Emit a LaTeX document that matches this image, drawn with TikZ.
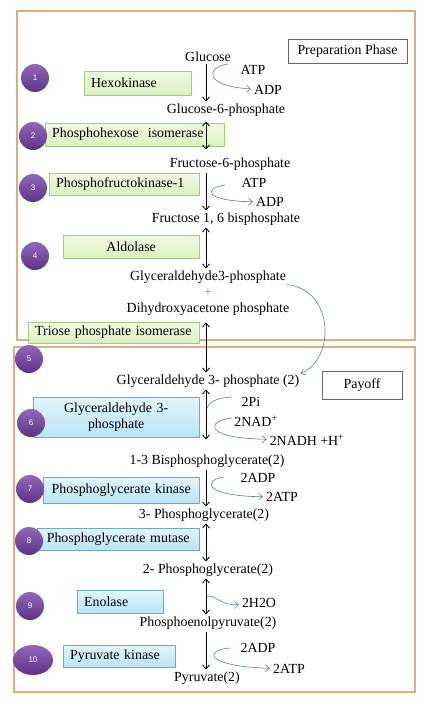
\documentclass[tikz,border=0pt]{standalone}
\usepackage{fontspec}
\setmainfont{Liberation Serif}
\setsansfont{Liberation Sans}
\definecolor{phaseedge}{RGB}{222, 172, 125}
\definecolor{stepviolet}{RGB}{92, 50, 135}
\definecolor{steplight}{RGB}{145, 105, 185}
\definecolor{prepfill}{RGB}{218, 242, 190}
\definecolor{prepedge}{RGB}{165, 200, 130}
\definecolor{payfill}{RGB}{185, 228, 246}
\definecolor{payedge}{RGB}{110, 170, 200}
\definecolor{cofactor}{RGB}{88, 128, 158}
\definecolor{plusorange}{RGB}{205, 125, 60}
\usetikzlibrary{arrows.meta, shapes.geometric}

\begin{document}
\begin{tikzpicture}[x=1pt, y=-1pt,
    every node/.style={font=\fontsize{13.9}{16.5}\selectfont, inner sep=1pt},
    enzprep/.style={draw=prepedge, top color=prepfill!40!white, bottom color=prepfill, inner xsep=7pt, inner ysep=2pt, align=left, anchor=west},
    enzpay/.style={draw=payedge, top color=payfill!40!white, bottom color=payfill, inner xsep=7pt, inner ysep=2pt, align=left, anchor=west},
    stepdot/.style={circle, minimum size=28pt, inner sep=0pt, top color=steplight, bottom color=stepviolet, text=white, font=\sffamily\fontsize{8}{9}\selectfont},
    side/.style={inner sep=3pt},
    rxn/.style={-{Straight Barb[length=4pt, width=7pt]}, line width=0.8pt, shorten <=1pt, shorten >=1pt},
    rev/.style={{Straight Barb[length=4pt, width=7pt]}-{Straight Barb[length=4pt, width=7pt]}, line width=0.8pt, shorten <=1pt, shorten >=1pt},
    cofac/.style={draw=cofactor, line width=0.6pt},
    cofacto/.style={cofac, -{Straight Barb[length=4pt, width=7pt]}},
    phase/.style={draw=phaseedge, line width=1.6pt},
    tag/.style={draw=gray!80!black, line width=0.5pt, inner sep=0pt}]
    \useasboundingbox (0,0) rectangle (431,709);

    % Phase frames
    \draw[phase] (17,11) rectangle (415,340);
    \draw[phase] (14,347) rectangle (415,692);
    \node[tag, minimum width=119pt, minimum height=24pt] (prep) at (347.5,51) {Preparation Phase};
    \node[tag, minimum width=80pt, minimum height=28pt] (payoff) at (362,385) {Payoff};

    % Enzymes, preparation phase
    \node[enzprep, text width=93pt, minimum height=24pt] (hk) at (84,83) {Hexokinase};
    \node[enzprep, text width=165pt, minimum height=23pt] (phi) at (45,134.5) {Phosphohexose\ \ isomerase};
    \node[enzprep, text width=136pt, minimum height=22pt] (pfk) at (49,184) {Phosphofructokinase-1};
    \node[enzprep, text width=122pt, minimum height=23pt, align=center] (ald) at (63,246.5) {Aldolase};
    \node[enzprep, text width=157pt, minimum height=21pt] (tpi) at (28,332.5) {Triose phosphate isomerase};

    % Enzymes, payoff phase
    \node[enzpay, text width=152pt, minimum height=40pt, align=center] (gapdh) at (33,417) {Glyceraldehyde 3-\\phosphate};
    \node[enzpay, text width=142pt, minimum height=26pt, align=center] (pgk) at (43,490) {Phosphoglycerate kinase};
    \node[enzpay, text width=148pt, minimum height=22pt, align=center] (pgm) at (37,539) {Phosphoglycerate mutase};
    \node[enzpay, text width=72pt, minimum height=23pt] (eno) at (77,601.5) {Enolase};
    \node[enzpay, text width=98pt, minimum height=22pt] (pk) at (63,656) {Pyruvate kinase};

    % Step numbers
    \node[stepdot] (s1) at (35,78) {1};
    \node[stepdot] (s2) at (33,136) {2};
    \node[stepdot] (s3) at (33,188) {3};
    \node[stepdot] (s4) at (35,256) {4};
    \node[stepdot] (s5) at (29,359) {5};
    \node[stepdot] (s6) at (31,423) {6};
    \node[stepdot] (s7) at (30,489) {7};
    \node[stepdot] (s8) at (29,541) {8};
    \node[stepdot] (s9) at (30,606) {9};
    \node[stepdot, ellipse, minimum width=40pt, minimum height=30pt] (s10) at (33,660) {10};

    % Metabolites
    \node (glc) at (208,57) {Glucose};
    \node (g6p) at (226,110) {Glucose-6-phosphate};
    \node (f6p) at (230,164) {Fructose-6-phosphate};
    \node (f16bp) at (226,219) {Fructose 1, 6 bisphosphate};
    \node (gap) at (208,277) {Glyceraldehyde3-phosphate};
    \node[text=plusorange] (plus) at (208,293) {+};
    \node (dhap) at (208,309) {Dihydroxyacetone phosphate};
    \node (gap2) at (208,381) {Glyceraldehyde 3- phosphate (2)};
    \node (bpg) at (207,461) {1-3 Bisphosphoglycerate(2)};
    \node (pg3) at (204,515) {3- Phosphoglycerate(2)};
    \node (pg2) at (208,570) {2- Phosphoglycerate(2)};
    \node (pep) at (208,623) {Phosphoenolpyruvate(2)};
    \node (pyr) at (207,678) {Pyruvate(2)};

    % Cofactors
    \node[side] (atp1) at (253,70) {ATP};
    \node[side] (adp1) at (268,90) {ADP};
    \node[side] (atp3) at (254,183) {ATP};
    \node[side] (adp3) at (270,202) {ADP};
    \node[side] (pi) at (251,402) {2Pi};
    \node[side] (nad) at (256,421) {2NAD\textsuperscript{+}};
    \node[side] (nadh) at (307,440) {2NADH +H\textsuperscript{+}};
    \node[side] (adp7) at (258,478) {2ADP};
    \node[side] (atp7) at (282,497) {2ATP};
    \node[side] (h2o) at (259,603) {2H2O};
    \node[side] (adp10) at (258,648) {2ADP};
    \node[side] (atp10) at (289,669) {2ATP};

    % Main pathway
    \coordinate (spine) at (206,0);
    \draw[rxn] (spine |- glc.south) -- (spine |- g6p.north);
    \draw[rev, shorten <=4pt, shorten >=7pt] (spine |- g6p.south) -- (spine |- f6p.north);
    \draw[rxn] (spine |- f6p.south) -- (spine |- f16bp.north);
    \draw[rev] (spine |- f16bp.south) -- (spine |- gap.north);
    \draw[rev, shorten <=6pt] (spine |- dhap.south) -- (spine |- gap2.north);
    \draw[rev, shorten >=14pt] (spine |- gap2.south) -- (spine |- bpg.north);
    \draw[rxn] (spine |- bpg.south) -- (spine |- pg3.north);
    \draw[rev] (spine |- pg3.south) -- (spine |- pg2.north);
    \draw[rev] (spine |- pg2.south) -- (spine |- pep.north);
    \draw[rxn] (spine |- pep.south) -- (spine |- pyr.north);

    % Side reactions
    \coordinate (c1) at (228,64);
    \draw[cofacto] (c1) .. controls (206,67) and (203,86) .. (adp1);
    \coordinate (c3) at (225,185);
    \draw[cofacto] (c3) .. controls (204,188) and (203,201) .. (adp3);
    \draw[cofacto] (gap.south east) .. controls (335,290) and (335,360) .. (gap2.north east);
    \coordinate (c6a) at (232,397);
    \coordinate (c6b) at (207,408);
    \draw[cofac] (c6a) .. controls (216,398) and (209,402) .. (c6b);
    \coordinate (c6c) at (232,418);
    \draw[cofacto] (c6c) .. controls (208,420) and (200,438) .. (nadh);
    \coordinate (c7) at (224,477);
    \draw[cofacto] (c7) .. controls (203,480) and (203,496) .. (atp7);
    \coordinate (c9) at (207,597);
    \draw[cofacto] (c9) .. controls (214,593) and (220,606) .. (h2o);
    \coordinate (c10) at (230,648);
    \draw[cofacto] (c10) .. controls (205,650) and (203,666) .. (atp10);
\end{tikzpicture}
\end{document}
